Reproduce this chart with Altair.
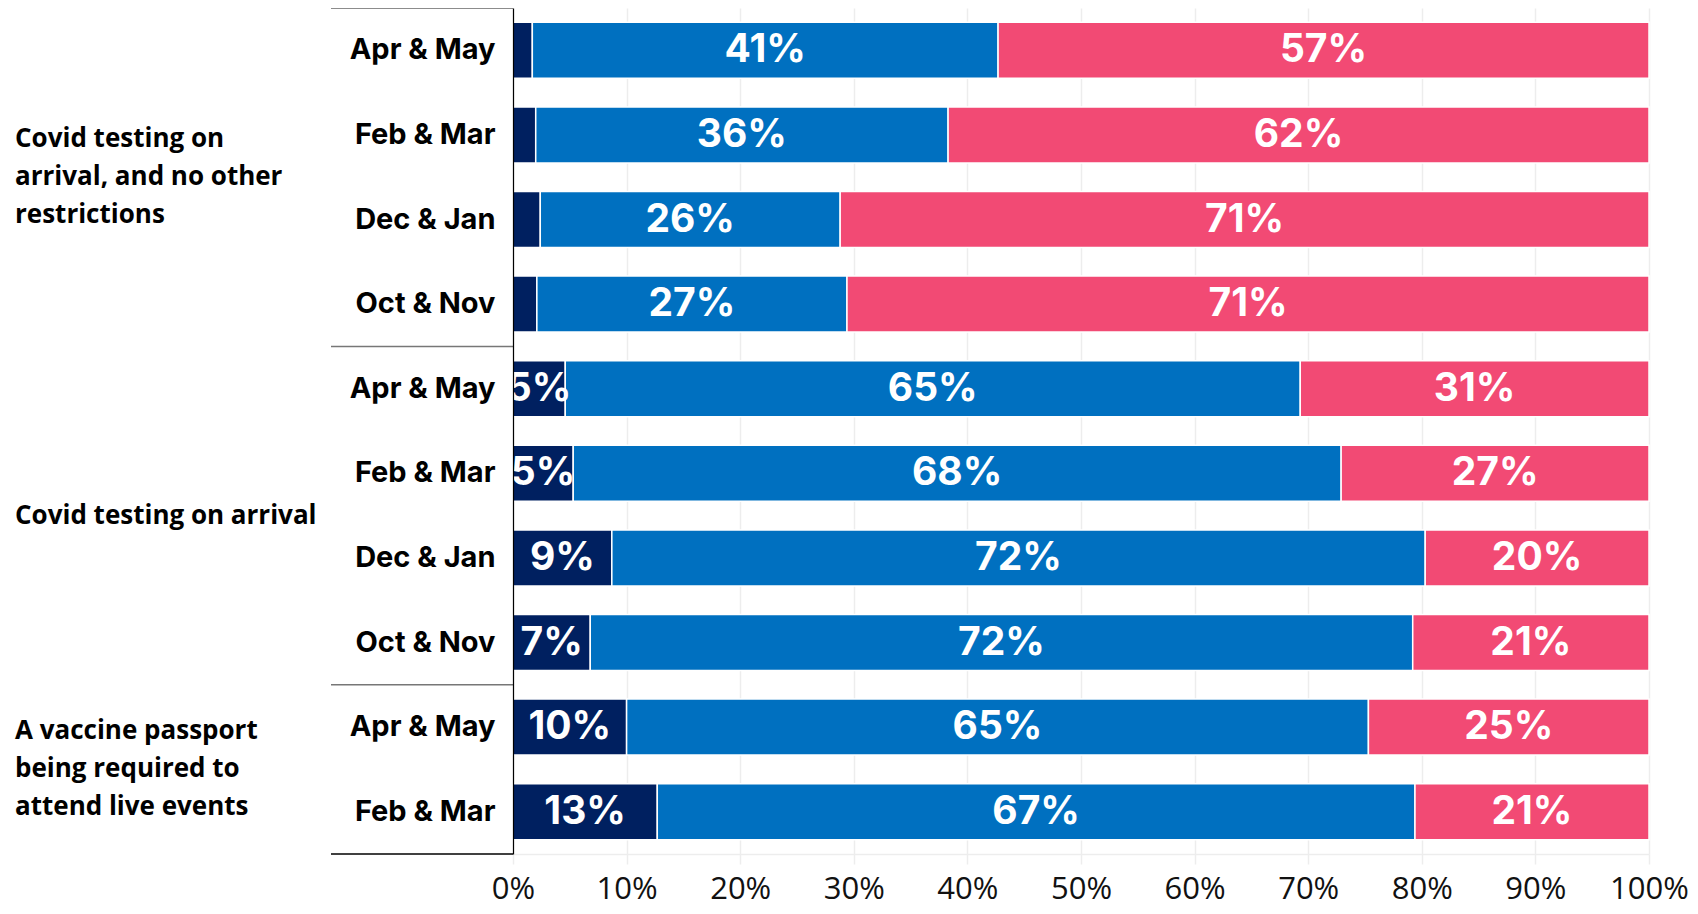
import altair as alt
import pandas as pd

# ---- data ----
group_names_multi = [
    "Covid testing on\narrival, and no other\nrestrictions",
    "A vaccine passport\nbeing required to\nattend live events",
]
group_names_single = ["Covid testing on arrival"]
periods = ["Apr & May", "Feb & Mar", "Dec & Jan", "Oct & Nov",
           "Apr & May", "Feb & Mar", "Dec & Jan", "Oct & Nov",
           "Apr & May", "Feb & Mar"]
segments = ["s1", "s2", "s3"]
seg_colors = ["#002060", "#0070C0", "#F24A74"]
seg1 = [1.7, 2.0, 2.4, 2.1, 4.6, 5.3, 8.7, 6.8, 10.0, 12.7]
seg2 = [41.0, 36.3, 26.4, 27.3, 64.7, 67.6, 71.6, 72.4, 65.3, 66.7]
seg3 = [57.3, 61.7, 71.2, 70.6, 30.7, 27.1, 19.7, 20.8, 24.7, 20.6]
x_ticks = [0, 10, 20, 30, 40, 50, 60, 70, 80, 90, 100]
min_label = 4

row_ids = [f"{i}|{p}" for i, p in enumerate(periods)]

records = []
for i, rid in enumerate(row_ids):
    for k, vals in enumerate([seg1, seg2, seg3]):
        records.append({"row": rid, "seg": segments[k], "order": k, "value": vals[i]})
df = pd.DataFrame(records)

# group labels are centred on the boundary below these rows
glabels_multi = pd.DataFrame({"row": [row_ids[1], row_ids[8]], "label": group_names_multi})
glabels_single = pd.DataFrame({"row": [row_ids[5]], "label": group_names_single})

sep_top = pd.DataFrame({"row": [row_ids[0]]})
sep_mid = pd.DataFrame({"row": [row_ids[3], row_ids[7]]})
sep_bottom = pd.DataFrame({"row": [row_ids[9]]})

yscale = alt.Scale(domain=row_ids, paddingInner=0, paddingOuter=0)
xscale = alt.Scale(domain=[0, 100], nice=False)

base = alt.Chart(df)

bars = base.mark_bar(size=56, stroke="white", strokeWidth=1.5).encode(
    y=alt.Y("row:N", scale=yscale, sort=row_ids,
            axis=alt.Axis(title=None, ticks=False, labelExpr="split(datum.value, '|')[1]",
                          labelFont="Inter", labelFontWeight="bold", labelFontSize=29,
                          labelColor="#000000", labelPadding=18, domainColor="#000000",
                          domainWidth=1.2, grid=False, zindex=2)),
    x=alt.X("value:Q", stack="zero", scale=xscale,
            axis=alt.Axis(title=None, values=x_ticks, labelExpr="datum.value + '%'",
                          grid=True, gridColor="#EDEDED", gridWidth=1.5,
                          tickColor="#EDEDED", tickSize=10, tickWidth=1.5,
                          domainColor="#EDEDED", domainWidth=1.5, labelFlush=False,
                          labelFont="Open Sans", labelFontSize=31, labelColor="#111111",
                          labelPadding=10)),
    color=alt.Color("seg:N", scale=alt.Scale(domain=segments, range=seg_colors), legend=None),
    order=alt.Order("order:Q"),
)

texts = base.transform_stack(
    stack="value", groupby=["row"], as_=["x0", "x1"], sort=[alt.SortField("order")]
).transform_calculate(
    mid="(datum.x0 + datum.x1) / 2",
    label="format(datum.value, '.0f') + '%'",
).transform_filter(
    f"datum.value >= {min_label}"
).mark_text(font="Inter", fontWeight="bold", fontSize=39, color="white", baseline="middle").encode(
    y=alt.Y("row:N", scale=yscale, sort=row_ids),
    x=alt.X("mid:Q", scale=xscale),
    text="label:N",
)

group_multi = alt.Chart(glabels_multi).mark_text(
    font="Open Sans", fontWeight="bold", fontSize=26, align="left", baseline="middle",
    lineBreak="\n", lineHeight=38, dy=-38, color="#000000"
).encode(
    y=alt.Y("row:N", scale=yscale, sort=row_ids, bandPosition=1),
    x=alt.value(-498),
    text="label:N",
)
group_single = alt.Chart(glabels_single).mark_text(
    font="Open Sans", fontWeight="bold", fontSize=26, align="left", baseline="middle",
    color="#000000"
).encode(
    y=alt.Y("row:N", scale=yscale, sort=row_ids, bandPosition=1),
    x=alt.value(-498),
    text="label:N",
)

rule_top = alt.Chart(sep_top).mark_rule(color="#666666", strokeWidth=1.5).encode(
    y=alt.Y("row:N", scale=yscale, sort=row_ids, bandPosition=0),
    x=alt.value(-182), x2=alt.value(0),
)
rule_mid = alt.Chart(sep_mid).mark_rule(color="#777777", strokeWidth=1.5).encode(
    y=alt.Y("row:N", scale=yscale, sort=row_ids, bandPosition=1),
    x=alt.value(-182), x2=alt.value(0),
)
rule_bottom = alt.Chart(sep_bottom).mark_rule(color="#000000", strokeWidth=1.5).encode(
    y=alt.Y("row:N", scale=yscale, sort=row_ids, bandPosition=1),
    x=alt.value(-182), x2=alt.value(0),
)

chart = alt.layer(bars, texts, group_multi, group_single, rule_top, rule_mid, rule_bottom).properties(
    width=1136, height=846,
    autosize=alt.AutoSizeParams(type="none"),
    padding={"left": 505, "top": 0, "right": 40, "bottom": 52},
).configure_view(strokeWidth=0)

chart.save("out.html", embed_options={"renderer": "svg", "actions": False})
